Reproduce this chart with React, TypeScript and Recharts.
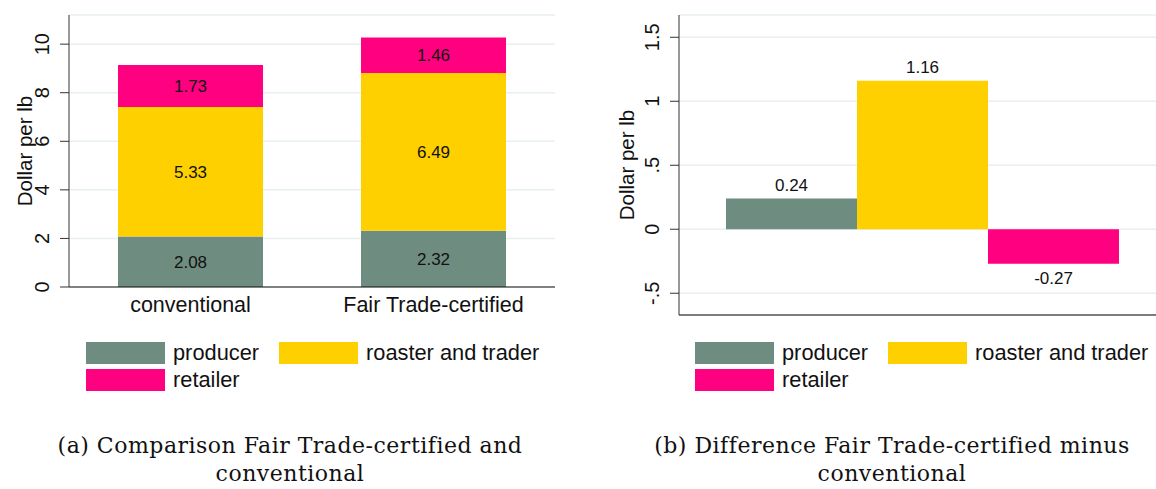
import React from "react";
import { BarChart, Bar, XAxis, YAxis, CartesianGrid, LabelList, Label } from "recharts";

// panel (a): stacked price components per category
const categories = ["conventional", "Fair Trade-certified"];
const producer = [2.08, 2.32];
const roasterTrader = [5.33, 6.49];
const retailer = [1.73, 1.46];

// panel (b): Fair Trade minus conventional
const diffValues = [0.24, 1.16, -0.27];

const leftTicks = [0, 2, 4, 6, 8, 10];
const rightTicks = [-0.5, 0, 0.5, 1, 1.5];

const series = [
  { key: "producer", name: "producer", color: "#6f8c80" },
  { key: "roaster", name: "roaster and trader", color: "#ffd000" },
  { key: "retailer", name: "retailer", color: "#ff0080" },
];

const stackData = categories.map((c, i) => ({
  category: c,
  producer: producer[i],
  roaster: roasterTrader[i],
  retailer: retailer[i],
}));

const diffData = [
  { category: "diff", producer: diffValues[0], roaster: diffValues[1], retailer: diffValues[2] },
];

const SANS = "'Liberation Sans', Arial, Helvetica, sans-serif";
const GRID = "#e8eff2";

const stataNum = (v: number) => {
  if (v === 0) return "0";
  const s = String(Math.abs(v)).replace(/^0/, "");
  return (v < 0 ? "-" : "") + s;
};

const RotTick = ({ x, y, payload, fmt }: any) => {
  const bx = x - 9;
  return (
    <text
      x={bx}
      y={y}
      transform={`rotate(-90, ${bx}, ${y})`}
      textAnchor="middle"
      fontSize={20}
      fill="#111"
    >
      {fmt(payload.value)}
    </text>
  );
};

const CatTick = ({ x, y, payload }: any) => (
  <text x={x} y={y + 25} textAnchor="middle" fontSize={21.5} fill="#111">
    {payload.value}
  </text>
);

const yTitle = (shift: number) => (props: any) => {
  const vb = props.viewBox;
  const bx = vb.x + vb.width - shift;
  const cy = vb.y + vb.height / 2;
  return (
    <text
      x={bx}
      y={cy}
      transform={`rotate(-90, ${bx}, ${cy})`}
      textAnchor="middle"
      fontSize={20.5}
      fill="#111"
    >
      Dollar per lb
    </text>
  );
};

const DiffLabel = (p: any) => {
  const { x, y, width, height, value } = p;
  const top = Math.min(y, y + height);
  const bottom = Math.max(y, y + height);
  const cx = x + width / 2;
  return (
    <text
      x={cx}
      y={value >= 0 ? top - 7.5 : bottom + 20}
      textAnchor="middle"
      fontSize={17}
      fill="#111"
    >
      {Number(value).toFixed(2)}
    </text>
  );
};

const LegendBlock = ({ left, top }: { left: number; top: number }) => (
  <div style={{ position: "absolute", left, top, width: 460, height: 52 }}>
    {series.map((s, i) => (
      <div
        key={s.key}
        style={{
          position: "absolute",
          left: (i % 2) * 193,
          top: Math.floor(i / 2) * 27.5,
          display: "flex",
          alignItems: "center",
          whiteSpace: "nowrap",
        }}
      >
        <div style={{ width: 79, height: 22, background: s.color }} />
        <span style={{ marginLeft: 8, fontSize: 21.8, color: "#111" }}>{s.name}</span>
      </div>
    ))}
  </div>
);

const Caption = ({ center, lines }: { center: number; lines: string[] }) => (
  <div
    style={{
      position: "absolute",
      left: center - 270,
      top: 432,
      width: 540,
      textAlign: "center",
      fontFamily: "'DejaVu Serif', serif",
      fontSize: 22,
      letterSpacing: "0.5px",
      lineHeight: "28px",
      color: "#111",
    }}
  >
    {lines.map((l) => (
      <div key={l}>{l}</div>
    ))}
  </div>
);

export default function App() {
  return (
    <div
      style={{
        position: "absolute",
        left: 0,
        top: 0,
        width: 1156,
        height: 489,
        overflow: "hidden",
        background: "#fff",
        fontFamily: SANS,
      }}
    >
      <div style={{ position: "absolute", left: 0, top: 0 }}>
        <BarChart
          width={560}
          height={320}
          data={stackData}
          margin={{ top: 15, right: 5, left: 0, bottom: 0 }}
          barSize={145}
        >
          <CartesianGrid vertical={false} stroke={GRID} strokeWidth={1.5} />
          <XAxis
            dataKey="category"
            height={33}
            tickLine={false}
            tickSize={0}
            tickMargin={0}
            axisLine={{ stroke: "#111" }}
            tick={<CatTick />}
          />
          <YAxis
            width={69}
            domain={[0, 11.2]}
            ticks={leftTicks}
            tickSize={9}
            tickMargin={2}
            axisLine={{ stroke: "#333" }}
            tickLine={{ stroke: "#333" }}
            tick={<RotTick fmt={(v: number) => String(v)} />}
          >
            <Label content={yTitle(37)} />
          </YAxis>
          {series.map((s) => (
            <Bar key={s.key} dataKey={s.key} stackId="a" fill={s.color} isAnimationActive={false}>
              <LabelList
                dataKey={s.key}
                position="center"
                fontSize={17}
                fill="#111"
                formatter={(v: any) => Number(v).toFixed(2)}
              />
            </Bar>
          ))}
        </BarChart>
      </div>

      <div style={{ position: "absolute", left: 610, top: 0 }}>
        <BarChart
          width={546}
          height={350}
          data={diffData}
          margin={{ top: 15, right: 0, left: 0, bottom: 0 }}
          barSize={131}
          barGap={0}
        >
          <CartesianGrid vertical={false} stroke={GRID} strokeWidth={1.5} />
          <XAxis
            dataKey="category"
            height={35}
            tick={false}
            tickLine={false}
            padding={{ left: 9, right: 0 }}
            axisLine={{ stroke: "#555", strokeWidth: 1.5 }}
          />
          <YAxis
            width={69}
            domain={[-0.67, 1.674]}
            ticks={rightTicks}
            tickSize={9}
            tickMargin={2}
            axisLine={{ stroke: "#333" }}
            tickLine={{ stroke: "#333" }}
            tick={<RotTick fmt={stataNum} />}
          >
            <Label content={yTitle(45)} />
          </YAxis>
          {series.map((s) => (
            <Bar key={s.key} dataKey={s.key} fill={s.color} isAnimationActive={false}>
              <LabelList dataKey={s.key} content={<DiffLabel />} />
            </Bar>
          ))}
        </BarChart>
      </div>

      <LegendBlock left={86} top={339.5} />
      <LegendBlock left={695} top={339.5} />

      <Caption center={290} lines={["(a) Comparison Fair Trade-certified and", "conventional"]} />
      <Caption center={892} lines={["(b) Difference Fair Trade-certified minus", "conventional"]} />
    </div>
  );
}
